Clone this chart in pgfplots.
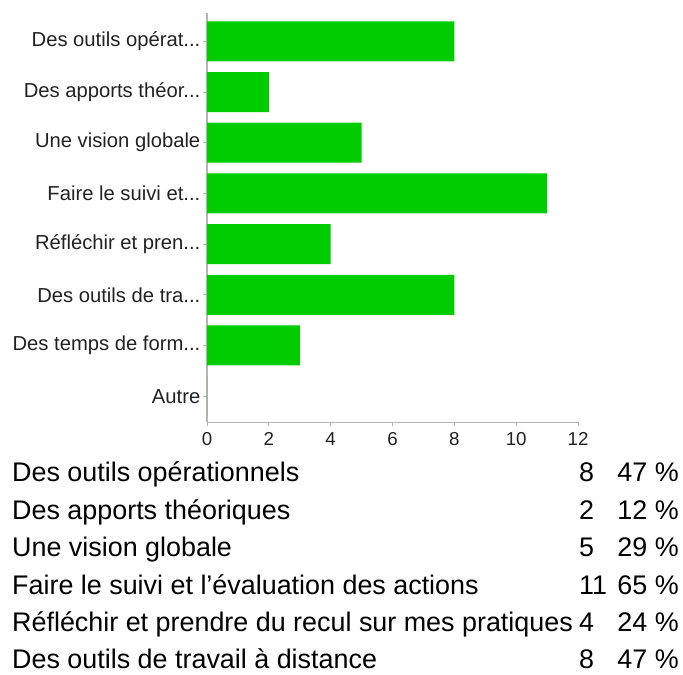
\documentclass[border=0pt]{standalone}
\usepackage{fontspec}
\setmainfont{Liberation Sans}
\usepackage{pgfplots}
\pgfplotsset{compat=1.18}
\definecolor{bargreen}{HTML}{00CC00}
\definecolor{axgray}{HTML}{B5B5B5}
\definecolor{txt}{HTML}{222222}
\newcommand\el{...}
\begin{document}
\begin{tikzpicture}[x=1bp,y=1bp]
\path[use as bounding box] (0,0) rectangle (683,675);
\begin{axis}[
  at={(207bp,252.5bp)}, anchor=south west,
  scale only axis, width=371bp, height=409.5bp,
  xmin=0, xmax=12, ymin=-0.56, ymax=7.52,
  y dir=reverse,
  xbar, bar width=40bp, bar shift=0pt,
  axis x line*=bottom, axis y line*=left,
  axis line style={axgray, line width=1.2bp},
  tick style={axgray, line width=1bp},
  tick align=outside, major tick length=4bp,
  xtick={0,2,...,12},
  ytick={0,...,7},
  yticklabels={Des outils opérat\el,Des apports théor\el,Une vision globale,Faire le suivi et\el,Réfléchir et pren\el,Des outils de tra\el,Des temps de form\el,Autre},
  /pgf/number format/assume math mode=true,
  ticklabel style={text=txt},
  yticklabel style={inner sep=2.5bp, font=\fontsize{20.3}{21}\selectfont},
  xticklabel style={inner sep=3bp, yshift=-3bp, font=\fontsize{18.8}{20}\selectfont},
  clip=false,
]
\addplot[fill=bargreen, draw=none] coordinates {(8,0) (2,1) (5,2) (11,3) (4,4) (8,5) (3,6) (0,7)};
\end{axis}
\begin{scope}[every node/.style={inner sep=0pt, font=\fontsize{27}{28}\selectfont, anchor=base west}]
\node at (12,193) {Des outils opérationnels};
\node at (12,155.6) {Des apports théoriques};
\node at (12,118.2) {Une vision globale};
\node at (12,80.8) {Faire le suivi et l’évaluation des actions};
\node at (12,43.4) {Réfléchir et prendre du recul sur mes pratiques};
\node at (12,6.5) {Des outils de travail à distance};
\node at (579,193) {8};
\node at (579,155.6) {2};
\node at (579,118.2) {5};
\node at (579,80.8) {11};
\node at (579,43.4) {4};
\node at (579,6.5) {8};
\node[anchor=base east] at (679,193) {47 \%};
\node[anchor=base east] at (679,155.6) {12 \%};
\node[anchor=base east] at (679,118.2) {29 \%};
\node[anchor=base east] at (679,80.8) {65 \%};
\node[anchor=base east] at (679,43.4) {24 \%};
\node[anchor=base east] at (679,6.5) {47 \%};
\end{scope}
\end{tikzpicture}
\end{document}
